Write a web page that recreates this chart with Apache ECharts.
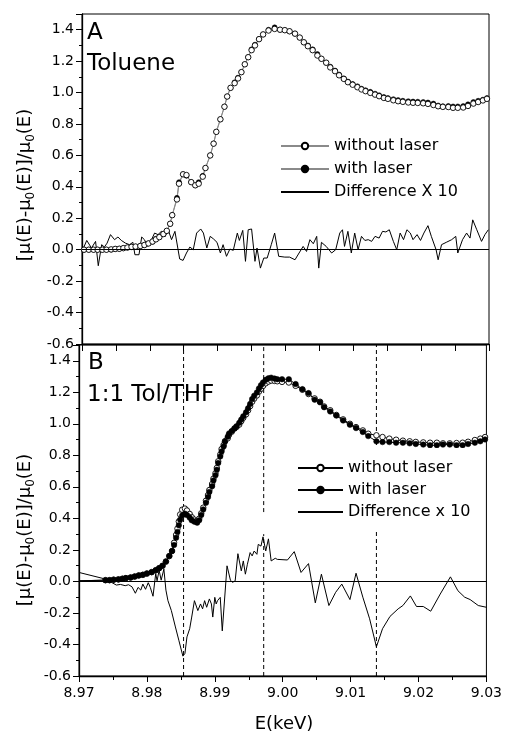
<!DOCTYPE html>
<html><head><meta charset="utf-8">
<style>html,body{margin:0;padding:0;background:#fff}#c{width:505px;height:733px}</style>
<script src="https://cdn.jsdelivr.net/npm/echarts@6/dist/echarts.min.js"></script>
</head><body><div id="c"></div>
<script>
const FONT = 'DejaVu Sans';
const xMin = 8.97, xMax = 9.03, yMin = -0.6, yMax = 1.5;

// ---- Panel A (Toluene) ----
const topE = [8.9703,8.9710,8.9717,8.9723,8.9730,8.9736,8.9743,8.9749,8.9755,8.9761,8.9767,8.9773,8.9779,8.9786,8.9792,8.9798,8.9804,8.9809,8.9814,8.9820,8.9825,8.9830,8.9833,8.9840,8.9843,8.9849,8.9854,8.9861,8.9867,8.9872,8.9878,8.9882,8.9889,8.9894,8.9898,8.9904,8.9910,8.9914,8.9919,8.9925,8.9930,8.9935,8.9940,8.9945,8.9950,8.9955,8.9961,8.9967,8.9975,8.9984,8.9992,8.9999,9.0006,9.0014,9.0021,9.0027,9.0033,9.0040,9.0047,9.0053,9.0060,9.0066,9.0073,9.0079,9.0086,9.0092,9.0099,9.0106,9.0112,9.0118,9.0125,9.0132,9.0138,9.0145,9.0151,9.0159,9.0166,9.0173,9.0181,9.0188,9.0195,9.0203,9.0210,9.0218,9.0225,9.0232,9.0240,9.0247,9.0254,9.0262,9.0269,9.0277,9.0284,9.0291,9.0297];
const topWithout = [0.0,0.0,0.0,0.0,0.0,0.0,0.002,
  0.005,0.006,0.01,0.014,0.018,0.02,
  0.024,0.03,0.04,0.052,0.066,0.08,0.10,0.12,0.165,
  0.22,0.32,0.42,0.48,0.475,0.43,0.41,0.42,0.465,
  0.52,0.60,0.675,0.75,0.83,0.91,0.975,1.03,1.06,
  1.09,1.13,1.18,1.225,1.27,1.30,1.34,1.37,
  1.395,1.405,1.40,1.397,
  1.39,1.375,1.35,1.32,1.295,1.27,1.236,1.215,
  1.19,1.16,1.136,1.11,1.087,1.066,1.05,1.034,1.02,1.009,
  0.998,0.987,0.977,0.966,0.96,0.951,0.945,0.941,0.937,0.935,
  0.934,0.932,0.928,0.921,0.913,0.909,0.908,0.903,0.903,0.905,
  0.915,0.93,0.94,0.95,0.96];
const topWith = [0.0,0.0,0.0,0.0,0.0,0.0,0.0,
  0.005,0.006,0.01,0.014,0.018,0.02,
  0.024,0.03,0.04,0.05,0.07,0.08,0.10,0.12,0.165,
  0.22,0.33,0.43,0.48,0.47,0.43,0.41,0.43,0.47,
  0.52,0.60,0.675,0.75,0.83,0.91,0.975,1.03,1.065,
  1.095,1.13,1.18,1.225,1.275,1.305,1.34,1.37,
  1.40,1.415,1.40,1.397,
  1.39,1.375,1.35,1.32,1.30,1.275,1.245,1.215,
  1.19,1.165,1.14,1.115,1.09,1.07,1.055,1.04,1.025,1.015,
  1.005,0.993,0.983,0.972,0.965,0.958,0.952,0.948,0.945,0.943,
  0.942,0.94,0.937,0.93,0.918,0.913,0.915,0.912,0.912,0.914,
  0.925,0.94,0.948,0.955,0.965];
const topDiff = [[8.9700,-0.011],[8.9707,0.059],[8.9714,0.011],[8.9720,0.053],[8.9724,-0.102],[8.9729,0.032],[8.9733,0.017],[8.9737,0.042],[8.9742,0.096],[8.9748,0.064],[8.9753,0.081],[8.9758,0.059],[8.9764,0.042],[8.9770,0.032],[8.9775,0.047],[8.9778,-0.032],[8.9784,-0.032],[8.9788,0.081],[8.9792,0.064],[8.9797,0.021],[8.9802,0.059],[8.9807,0.106],[8.9812,0.096],[8.9817,0.117],[8.9822,0.081],[8.9827,0.127],[8.9832,0.064],[8.9837,0.117],[8.9844,-0.059],[8.9849,-0.068],[8.9854,-0.021],[8.9859,0.017],[8.9864,0.0],[8.9869,0.106],[8.9875,0.132],[8.9879,0.106],[8.9884,0.011],[8.9889,0.085],[8.9894,0.068],[8.9899,0.047],[8.9904,-0.021],[8.9908,0.032],[8.9913,-0.042],[8.9918,0.004],[8.9923,-0.004],[8.9929,0.106],[8.9932,0.059],[8.9937,0.123],[8.9941,-0.074],[8.9945,0.127],[8.9950,0.132],[8.9955,-0.074],[8.9958,0.011],[8.9963,-0.117],[8.9968,-0.053],[8.9973,-0.053],[8.9979,0.032],[8.9984,0.106],[8.9990,-0.042],
  [8.9999,-0.047],[9.0006,-0.047],[9.0014,-0.064],[9.0020,-0.021],[9.0026,0.021],[9.0031,-0.011],[9.0036,0.064],[9.0041,0.038],[9.0046,0.085],[9.0049,-0.117],[9.0053,0.047],[9.0060,0.021],[9.0068,-0.021],[9.0074,0.0],[9.0080,0.106],[9.0084,0.127],[9.0087,0.021],[9.0092,0.117],[9.0097,-0.021],[9.0102,0.106],[9.0107,0.0],[9.0112,0.085],[9.0117,0.059],[9.0122,0.064],[9.0127,0.053],[9.0132,0.085],[9.0138,0.074],[9.0143,0.117],[9.0148,0.113],[9.0153,0.127],[9.0159,0.053],[9.0164,0.0],[9.0169,0.106],[9.0174,0.064],[9.0179,0.127],[9.0184,0.106],[9.0188,0.064],[9.0194,0.096],[9.0199,0.059],[9.0204,0.106],[9.0210,0.153],[9.0215,0.085],[9.0222,0.0],[9.0225,-0.064],[9.0230,0.032],[9.0237,0.047],[9.0245,0.064],[9.0251,0.085],[9.0254,-0.021],[9.0261,0.064],[9.0267,0.106],[9.0272,0.074],[9.0276,0.19],[9.0282,0.127],[9.0289,0.053],[9.0294,0.096],[9.0299,0.127]];

// ---- Panel B (1:1 Tol/THF) ----
const botE = [8.9700,8.9739,8.9745,8.9751,8.9758,8.9764,8.9769,8.9776,8.9782,8.9788,8.9794,8.9800,8.9807,8.9813,8.9818,8.9823,8.9828,8.9833,8.9837,8.9840,8.9843,8.9845,8.9847,8.9849,8.9852,8.9856,8.9859,8.9863,8.9866,8.9870,8.9874,8.9877,8.9880,8.9883,8.9887,8.9890,8.9892,8.9896,8.9898,8.9901,8.9903,8.9905,8.9908,8.9910,8.9913,8.9915,8.9919,8.9921,8.9925,8.9929,8.9932,8.9936,8.9939,8.9942,8.9946,8.9949,8.9952,8.9955,8.9958,8.9962,8.9965,8.9968,8.9971,8.9975,8.9979,8.9983,8.9988,8.9992,
  8.9999,9.0009,9.0019,9.0029,9.0038,9.0047,9.0055,9.0061,9.0070,9.0079,9.0089,9.0099,9.0108,9.0118,9.0126,9.0138,9.0147,9.0157,9.0167,9.0177,9.0187,9.0196,9.0207,9.0217,9.0227,9.0236,9.0246,9.0256,9.0265,9.0273,9.0283,9.0291,9.0298];
const botWith = [0.004,0.008,0.008,0.011,0.013,0.017,0.021,0.025,0.031,0.038,0.042,0.050,0.059,0.071,0.084,0.099,0.126,0.161,0.193,
  0.231,0.277,0.314,0.356,0.392,0.419,0.430,0.421,0.405,0.388,0.379,0.373,
  0.388,0.421,0.457,0.499,0.535,0.568,0.604,0.640,0.673,0.709,0.751,0.793,0.825,0.856,0.887,
  0.918,0.939,0.954,0.971,0.985,1.006,1.027,1.048,1.073,1.098,1.126,1.157,1.178,1.199,1.224,1.245,1.262,1.279,1.289,1.293,1.287,1.283,
  1.283,1.283,1.252,1.220,1.195,1.153,1.136,1.105,1.078,1.052,1.021,0.994,0.973,0.948,0.922,0.889,0.884,0.884,0.880,0.880,0.876,0.872,0.868,0.864,0.864,0.868,0.868,0.864,0.864,0.872,0.880,0.889,0.901];
const botWithout = [0.004,0.008,0.008,0.011,0.013,0.017,0.021,0.025,0.031,0.038,0.042,0.050,0.059,0.071,0.084,0.099,0.126,0.161,0.193,
  0.245,0.295,0.335,0.38,0.425,0.455,0.462,0.450,0.428,0.408,0.392,0.385,
  0.398,0.432,0.468,0.512,0.548,0.580,0.618,0.652,0.686,0.720,0.762,0.805,0.84,0.866,0.89,
  0.908,0.930,0.950,0.970,0.980,0.995,1.017,1.038,1.060,1.085,1.112,1.14,1.16,1.18,1.204,1.222,1.24,1.257,1.268,1.274,1.272,1.27,
  1.266,1.262,1.241,1.216,1.189,1.161,1.140,1.110,1.086,1.056,1.028,1.0,0.979,0.958,0.937,0.927,0.916,0.906,0.899,0.893,0.889,0.885,0.882,0.880,0.880,0.876,0.876,0.878,0.880,0.886,0.897,0.906,0.916];
const botDiff = [[8.9700,0.057],[8.9739,0.015],[8.9755,-0.023],[8.9761,-0.019],[8.9768,-0.027],[8.9773,-0.021],[8.9778,-0.034],[8.9783,-0.075],[8.9787,-0.038],[8.9791,-0.055],[8.9794,-0.017],[8.9798,-0.05],[8.9802,-0.008],[8.9805,-0.038],[8.9809,-0.094],[8.9813,0.050],[8.9815,0.004],[8.9818,0.071],[8.9821,0.008],[8.9825,0.078],[8.9828,-0.055],[8.9831,-0.122],[8.9836,-0.185],[8.9842,-0.289],[8.9847,-0.373],[8.9853,-0.474],[8.9856,-0.457],[8.9859,-0.352],[8.9863,-0.300],[8.9866,-0.226],[8.9870,-0.122],[8.9875,-0.185],[8.9879,-0.143],[8.9882,-0.174],[8.9885,-0.122],[8.9888,-0.164],[8.9892,-0.111],[8.9895,-0.143],[8.9897,-0.226],[8.9900,-0.101],[8.9902,-0.143],[8.9904,-0.122],[8.9908,-0.101],[8.9911,-0.314],[8.9918,0.099],[8.9923,0.008],[8.9926,-0.006],[8.9930,0.004],[8.9934,0.176],[8.9939,0.067],[8.9942,0.13],[8.9945,0.046],[8.9948,0.109],[8.9952,0.183],[8.9955,0.162],[8.9958,0.193],[8.9962,0.172],[8.9964,0.235],[8.9968,0.224],[8.9971,0.283],[8.9975,0.193],[8.9979,0.270],[8.9983,0.130],[8.9989,0.147],
  [8.9992,0.14],[9.0007,0.136],[9.0017,0.189],[9.0027,0.057],[9.0038,0.113],[9.0048,-0.136],[9.0057,0.046],[9.0068,-0.153],[9.0078,-0.069],[9.0087,-0.017],[9.0099,-0.115],[9.0108,0.052],[9.0118,-0.10],[9.0128,-0.237],[9.0138,-0.415],[9.0147,-0.30],[9.0158,-0.222],[9.0170,-0.174],[9.0177,-0.153],[9.0188,-0.092],[9.0197,-0.159],[9.0207,-0.159],[9.0218,-0.189],[9.0232,-0.08],[9.0247,0.029],[9.0258,-0.059],[9.0268,-0.10],[9.0276,-0.115],[9.0288,-0.153],[9.0300,-0.164]];
// dashed markers in panel B: [E, from, to]
const dashSegments = [[8.9854,-0.6,1.5],[8.9972,0.44,1.5],[8.9972,-0.6,0.30],[9.0138,-0.6,1.5]];

const zip = (xs, ys) => xs.map((x, i) => [x, ys[i]]);
// the first point of panel B sits on the left axis: draw its line but not its marker
const hideFirstSymbol = pts => pts.map((p, i) => i === 0 ? {value: p, symbol: 'none'} : p);
const black = '#000';

function yAxisFor(gi) {
  return {
    type: 'value', gridIndex: gi, min: yMin, max: yMax, interval: 0.2,
    axisLine: {show: true, lineStyle: {color: black, width: 1.3}},
    axisTick: {show: true, length: 6, lineStyle: {color: black, width: 1}},
    minorTick: {show: true, splitNumber: 2, length: 3, lineStyle: {color: black, width: 1}},
    splitLine: {show: false}, minorSplitLine: {show: false},
    axisLabel: {show: true, showMaxLabel: false, margin: 8, fontSize: 14, fontFamily: FONT, color: black,
      formatter: v => (Math.abs(v) < 1e-9 ? 0 : v).toFixed(1)}
  };
}
const openCircle = {color: '#fff', borderColor: black, borderWidth: 0.9};
const filledCircle = {color: black, borderColor: black, borderWidth: 0.5};

const series = [];
// Panel A
series.push({type: 'line', name: 'with laser', xAxisIndex: 0, yAxisIndex: 0, data: zip(topE, topWith),
  symbol: 'circle', symbolSize: 5, itemStyle: filledCircle, lineStyle: {color: '#8a8a8a', width: 1}});
series.push({type: 'line', name: 'without laser', xAxisIndex: 0, yAxisIndex: 0, data: zip(topE, topWithout),
  symbol: 'circle', symbolSize: 5.5, itemStyle: openCircle, lineStyle: {color: '#8a8a8a', width: 1}});
series.push({type: 'line', name: 'Difference X 10', xAxisIndex: 0, yAxisIndex: 0, data: topDiff,
  symbol: 'none', lineStyle: {color: black, width: 1}, itemStyle: {color: black},
  markLine: {silent: true, symbol: ['none', 'none'], label: {show: false}, lineStyle: {color: black, type: 'solid', width: 1}, data: [{yAxis: 0}]}});
// Panel B dashed markers
dashSegments.forEach(s => series.push({type: 'line', xAxisIndex: 1, yAxisIndex: 1, data: [[s[0], s[1]], [s[0], s[2]]],
  symbol: 'none', lineStyle: {color: black, width: 1, type: [4, 3]}, silent: true}));
series.push({type: 'line', name: 'without laser ', xAxisIndex: 1, yAxisIndex: 1, data: hideFirstSymbol(zip(botE, botWithout)),
  symbol: 'circle', symbolSize: 5.5, itemStyle: openCircle, lineStyle: {color: black, width: 1}});
series.push({type: 'line', name: 'with laser ', xAxisIndex: 1, yAxisIndex: 1, data: hideFirstSymbol(zip(botE, botWith)),
  symbol: 'circle', symbolSize: 5.5, itemStyle: filledCircle, lineStyle: {color: black, width: 1}});
series.push({type: 'line', name: 'Difference x 10', xAxisIndex: 1, yAxisIndex: 1, data: botDiff,
  symbol: 'none', lineStyle: {color: black, width: 1}, itemStyle: {color: black},
  markLine: {silent: true, symbol: ['none', 'none'], label: {show: false}, lineStyle: {color: black, type: 'solid', width: 1}, data: [{yAxis: 0}]}});

const yTitle = '{m|[μ(E)-μ}{s|0}{m|(E)]/μ}{s|0}{m|(E)}';
const yTitleRich = {
  m: {fontSize: 18, fontFamily: FONT, fill: black, color: black, lineHeight: 24},
  s: {fontSize: 12, fontFamily: FONT, fill: black, color: black, lineHeight: 10, verticalAlign: 'bottom'}
};
function txt(x, y, text, size, align) {
  return {type: 'text', x: x, y: y, silent: true, z: 10,
    style: {text: text, fontSize: size, fontFamily: FONT, fill: black, align: align || 'left', verticalAlign: 'top'}};
}

const option = {
  animation: false,
  backgroundColor: '#fff',
  grid: [
    {left: 82, top: 14, width: 407, height: 330, show: true, borderColor: black, borderWidth: 1, backgroundColor: 'transparent'},
    {left: 79, top: 345, width: 409, height: 331, show: true, borderColor: black, borderWidth: 1, backgroundColor: 'transparent'}
  ],
  xAxis: [
    {type: 'value', gridIndex: 0, min: xMin, max: xMax, interval: 0.005,
      axisLine: {show: true, onZero: false, lineStyle: {color: black, width: 1.3}},
      axisTick: {show: true, length: 7, lineStyle: {color: black}},
      axisLabel: {show: false}, splitLine: {show: false}},
    {type: 'value', gridIndex: 1, min: xMin, max: xMax, interval: 0.01,
      axisLine: {show: true, onZero: false, lineStyle: {color: black, width: 1.3}},
      axisTick: {show: true, length: 6, lineStyle: {color: black}},
      minorTick: {show: true, splitNumber: 2, length: 4, lineStyle: {color: black}},
      axisLabel: {show: true, margin: 10, fontSize: 14, fontFamily: FONT, color: black, formatter: v => v.toFixed(2)},
      splitLine: {show: false}}
  ],
  yAxis: [yAxisFor(0), yAxisFor(1)],
  legend: [
    {orient: 'vertical', left: 280, top: 138, padding: 0, itemWidth: 48, itemHeight: 8, itemGap: 7, selectedMode: false,
      textStyle: {fontSize: 16, fontFamily: FONT, color: black},
      data: [{name: 'without laser'}, {name: 'with laser'}, {name: 'Difference X 10', itemStyle: {opacity: 0}}]},
    {orient: 'vertical', left: 293, top: 448, padding: [12, 8, 12, 4], backgroundColor: '#fff', itemWidth: 45, itemHeight: 8, itemGap: 6, selectedMode: false,
      textStyle: {fontSize: 16, fontFamily: FONT, color: black},
      data: [{name: 'without laser '}, {name: 'with laser '}, {name: 'Difference x 10', itemStyle: {opacity: 0}}]}
  ],
  graphic: [
    txt(87, 22, 'A', 23),
    txt(87, 53, 'Toluene', 23),
    txt(88, 352, 'B', 23),
    txt(87, 384, '1:1 Tol/THF', 23),
    txt(284, 715, 'E(keV)', 18, 'center'),
    {type: 'text', x: 25, y: 185, rotation: Math.PI / 2, silent: true,
      style: {text: yTitle, rich: yTitleRich, fontSize: 18, fontFamily: FONT, fill: black, align: 'center', verticalAlign: 'middle'}},
    {type: 'text', x: 25, y: 530, rotation: Math.PI / 2, silent: true,
      style: {text: yTitle, rich: yTitleRich, fontSize: 18, fontFamily: FONT, fill: black, align: 'center', verticalAlign: 'middle'}}
  ],
  series: series
};
const chart = echarts.init(document.getElementById('c'), null, {renderer: 'canvas'});
chart.setOption(option);
</script></body></html>
